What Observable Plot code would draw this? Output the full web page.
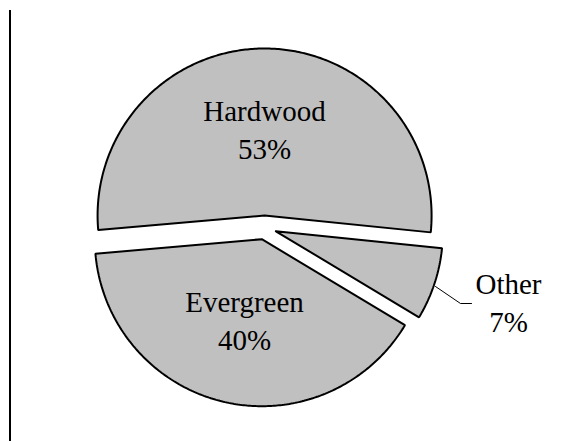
<!DOCTYPE html>
<html>
<head>
<meta charset="utf-8">
<script src="https://cdn.jsdelivr.net/npm/d3@7"></script>
<script src="https://cdn.jsdelivr.net/npm/@observablehq/plot@0.6"></script>
<style>
  html, body { margin: 0; padding: 0; background: #fff; }
  #chart svg { display: block; }
  #chart svg text, #chart svg tspan {
    font-family: "Liberation Serif", "Times New Roman", Tinos, "DejaVu Serif", serif !important;
  }
</style>
</head>
<body>
<div id="chart"></div>
<script>
// ---- data ----
const categories = ["Hardwood", "Other", "Evergreen"];
const shares = [53, 7, 40];
const shareLabels = ["53%", "7%", "40%"];

// ---- layout (pixels) ----
const W = 586, H = 441;
const center = {x: 264, y: 227};
const radius = 167;
const explode = 12;
const startDeg = -95;
const labelAnchors = {            // baseline of first line
  Hardwood: {x: 264, y: 120},
  Other: {x: 508, y: 293},
  Evergreen: {x: 244, y: 311}
};
const lineGap = 38;
const fontSize = 29;
const leader = [{x: 435, y: 286}, {x: 460, y: 303}, {x: 471, y: 303}];

// ---- geometry ----
const table = categories.map((c, i) => ({name: c, value: shares[i], label: shareLabels[i]}));
const arcs = d3.pie().sort(null).value(d => d.value)
  .startAngle(startDeg * Math.PI / 180)
  .endAngle(startDeg * Math.PI / 180 + 2 * Math.PI)(table);

const slicePts = [];
for (const a of arcs) {
  const mid = (a.startAngle + a.endAngle) / 2;
  const ox = center.x + explode * Math.sin(mid);
  const oy = center.y - explode * Math.cos(mid);
  slicePts.push({name: a.data.name, x: ox, y: oy});
  const n = Math.max(8, Math.ceil((a.endAngle - a.startAngle) * 90));
  for (let k = 0; k <= n; k++) {
    const t = a.startAngle + (a.endAngle - a.startAngle) * k / n;
    slicePts.push({name: a.data.name, x: ox + radius * Math.sin(t), y: oy - radius * Math.cos(t)});
  }
  slicePts.push({name: a.data.name, x: ox, y: oy});
}

const textRows = [];
for (const d of table) {
  const p = labelAnchors[d.name];
  textRows.push({x: p.x, y: p.y, t: d.name});
  textRows.push({x: p.x, y: p.y + lineGap, t: d.label});
}
const baseShift = 0.32 * fontSize; // lineAnchor middle -> baseline offset

const chart = Plot.plot({
  width: W,
  height: H,
  margin: 0,
  x: {domain: [0, W], range: [0, W], axis: null},
  y: {domain: [0, H], range: [0, H], axis: null},
  style: {background: "#fff"},
  marks: [
    Plot.ruleX([9.5], {y1: 10, y2: 441, stroke: "#000", strokeWidth: 2}),
    Plot.line(slicePts, {x: "x", y: "y", z: "name", fill: "#c0c0c0", stroke: "#000",
      strokeWidth: 2, strokeLinejoin: "miter", curve: "linear"}),
    Plot.line(leader, {x: "x", y: "y", stroke: "#000", strokeWidth: 1}),
    Plot.text(textRows, {x: "x", y: d => d.y - baseShift, text: "t", fill: "#000",
      fontSize: fontSize, fontFamily: "Liberation Serif",
      textAnchor: "middle", lineAnchor: "middle"})
  ]
});
document.getElementById("chart").appendChild(chart);
</script>
</body>
</html>
